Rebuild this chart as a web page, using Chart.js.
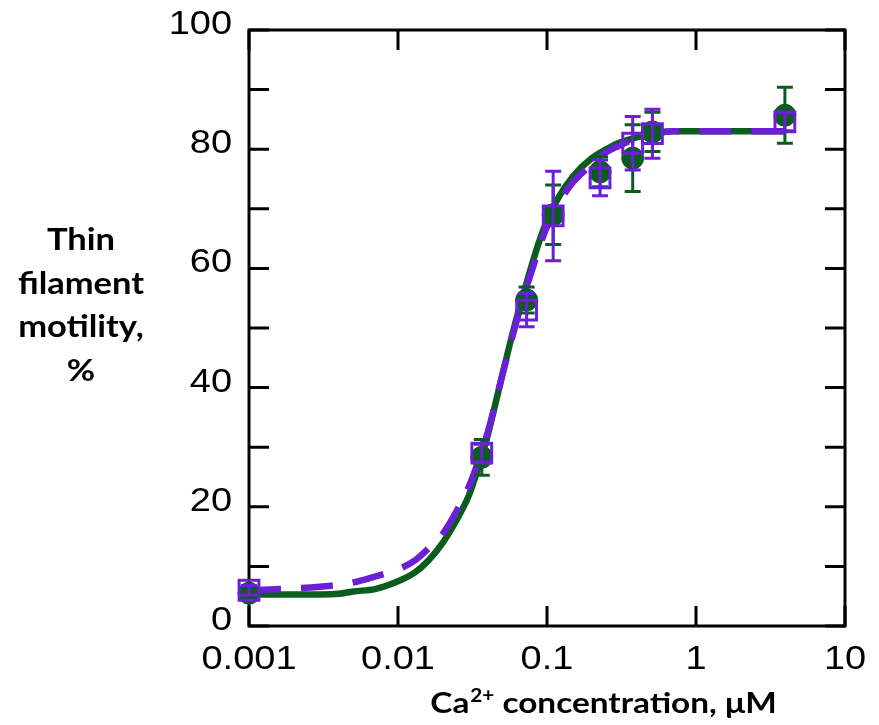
<!DOCTYPE html>
<html>
<head>
<meta charset="utf-8">
<script src="https://cdn.jsdelivr.net/npm/chart.js@4.4.1/dist/chart.umd.min.js"></script>
<style>
  html, body { margin: 0; padding: 0; background: #fff; }
</style>
</head>
<body>
<canvas id="chart" width="879" height="725"></canvas>
<script>
// measured points (Ca2+ in uM, motility in %)
const greenX = [0.001, 0.0365, 0.073, 0.11, 0.227, 0.376, 0.51, 3.95];
const greenY = [5.5, 28.3, 54.7, 69, 76.2, 78.5, 82.9, 85.7];
const greenErr = [0.8, 3, 2.2, 5, 2.5, 5.6, 3.3, 4.7];

const purpleX = [0.001, 0.0365, 0.073, 0.11, 0.227, 0.376, 0.51, 3.95];
const purpleY = [6, 29, 53, 68.8, 75.2, 81, 82.6, 84.6];
const purpleErr = [0.8, 1.5, 2.8, 7.5, 3, 4.5, 4.1, 1.5];

// fitted curves
const curveX = [0.001, 0.002, 0.003, 0.004, 0.005, 0.007, 0.01, 0.013, 0.016, 0.02, 0.025, 0.03, 0.035, 0.04, 0.05, 0.06, 0.07, 0.08, 0.09, 0.1, 0.12, 0.15, 0.2, 0.25, 0.3, 0.4, 0.5, 0.7, 1, 2, 4];
const greenCurve = [5.3, 5.3, 5.3, 5.4, 5.8, 6.2, 7.5, 9, 11, 14, 18, 22, 27, 32, 42, 50, 56, 61, 65, 68, 72, 75.5, 78.5, 80, 81, 82, 82.5, 83, 83, 83, 83];
const purpleCurve = [6, 6.3, 6.6, 6.9, 7.3, 8.3, 9.5, 11, 13, 15.5, 19.5, 23.5, 28, 32.5, 42, 49.5, 55.5, 60, 64, 67, 71, 74.5, 77.5, 79.5, 80.5, 81.8, 82.5, 83, 83, 83, 83];

const xTicks = [0.001, 0.01, 0.1, 1, 10];
const xTickLabels = ['0.001', '0.01', '0.1', '1', '10'];
const yTicks = [0, 10, 20, 30, 40, 50, 60, 70, 80, 90, 100];
const yTickLabels = ['0', '', '20', '', '40', '', '60', '', '80', '', '100'];
const yTitle = ['Thin', 'filament', 'motility,', '%'];

const GREEN = '#0b5d1e';
const PURPLE = '#6b1fd6';
const SX = 1.15; // text in the figure is a bit stretched horizontally

function pts(xs, ys) {
  return xs.map((x, i) => ({ x: x, y: ys[i] }));
}

function stretchText(ctx, text, x, y, align) {
  const w = ctx.measureText(text).width * SX;
  let left = x;
  if (align === 'center') left = x - w / 2;
  if (align === 'right') left = x - w;
  ctx.save();
  ctx.translate(left, y);
  ctx.scale(SX, 1);
  ctx.textAlign = 'left';
  ctx.fillText(text, 0, 0);
  ctx.restore();
}

const errorBars = {
  id: 'errorBars',
  beforeDatasetDraw(chart, args) {
    const ds = chart.data.datasets[args.index];
    if (!ds.errors) return;
    const ctx = chart.ctx;
    const xs = chart.scales.x, ys = chart.scales.y;
    ctx.save();
    ctx.strokeStyle = ds.borderColor;
    ctx.lineWidth = 3;
    ds.data.forEach((p, i) => {
      const px = xs.getPixelForValue(p.x);
      const top = ys.getPixelForValue(p.y + ds.errors[i]);
      const bot = ys.getPixelForValue(p.y - ds.errors[i]);
      ctx.beginPath();
      ctx.moveTo(px, top); ctx.lineTo(px, bot);
      ctx.moveTo(px - 8, top); ctx.lineTo(px + 8, top);
      ctx.moveTo(px - 8, bot); ctx.lineTo(px + 8, bot);
      ctx.stroke();
    });
    ctx.restore();
  }
};

const frame = {
  id: 'frame',
  beforeDatasetsDraw(chart) {
    const ctx = chart.ctx;
    const a = chart.chartArea;
    const xs = chart.scales.x, ys = chart.scales.y;
    ctx.save();
    ctx.strokeStyle = '#000';
    ctx.lineWidth = 3;
    ctx.strokeRect(a.left, a.top, a.right - a.left, a.bottom - a.top);
    ctx.beginPath();
    yTicks.forEach(v => {
      const py = ys.getPixelForValue(v);
      ctx.moveTo(a.left, py); ctx.lineTo(a.left + 20, py);
      ctx.moveTo(a.right, py); ctx.lineTo(a.right - 20, py);
    });
    xTicks.forEach(v => {
      const px = xs.getPixelForValue(v);
      ctx.moveTo(px, a.bottom); ctx.lineTo(px, a.bottom - 20);
      ctx.moveTo(px, a.top); ctx.lineTo(px, a.top + 20);
    });
    ctx.stroke();

    ctx.fillStyle = '#000';
    ctx.font = '33px "Liberation Sans", Arial, sans-serif';
    ctx.textBaseline = 'alphabetic';
    yTicks.forEach((v, i) => {
      if (yTickLabels[i]) stretchText(ctx, yTickLabels[i], a.left - 17, ys.getPixelForValue(v) + 4, 'right');
    });
    xTicks.forEach((v, i) => {
      stretchText(ctx, xTickLabels[i], xs.getPixelForValue(v), a.bottom + 43, 'center');
    });

    // y title, horizontal lines
    ctx.font = 'bold 30px Lato, "Open Sans", sans-serif';
    yTitle.forEach((t, i) => stretchText(ctx, t, 81, 250 + i * 43.5, 'center'));

    // x title with superscript
    const big = 'bold 29px Lato, "Open Sans", sans-serif';
    const small = 'bold 18px Lato, "Open Sans", sans-serif';
    ctx.font = big;
    const w1 = ctx.measureText('Ca').width;
    const w3 = ctx.measureText(' concentration, \u03bcM').width;
    ctx.font = small;
    const w2 = ctx.measureText('2+').width;
    let x0 = 603 - (w1 + w2 + w3) * SX / 2;
    const base = 713;
    ctx.font = big;
    stretchText(ctx, 'Ca', x0, base, 'left');
    x0 += w1 * SX;
    ctx.font = small;
    stretchText(ctx, '2+', x0 + 1, base - 11, 'left');
    x0 += w2 * SX + 1;
    ctx.font = big;
    stretchText(ctx, ' concentration, \u03bcM', x0, base, 'left');
    ctx.restore();
  }
};

new Chart(document.getElementById('chart'), {
  type: 'scatter',
  data: {
    datasets: [
      {
        label: 'green fit',
        data: pts(curveX, greenCurve),
        showLine: true,
        borderColor: GREEN,
        borderWidth: 6.5,
        pointRadius: 0,
        cubicInterpolationMode: 'monotone',
        clip: false,
        order: 4
      },
      {
        label: 'purple fit',
        data: pts(curveX, purpleCurve),
        showLine: true,
        borderColor: PURPLE,
        borderWidth: 6.5,
        borderDash: [32, 20],
        pointRadius: 0,
        cubicInterpolationMode: 'monotone',
        clip: false,
        order: 3
      },
      {
        label: 'green data',
        data: pts(greenX, greenY),
        errors: greenErr,
        borderColor: GREEN,
        backgroundColor: GREEN,
        pointRadius: 11,
        pointBorderWidth: 1,
        clip: false,
        order: 2
      },
      {
        label: 'purple data',
        data: pts(purpleX, purpleY),
        errors: purpleErr,
        borderColor: PURPLE,
        backgroundColor: 'rgba(0,0,0,0)',
        pointStyle: 'rect',
        pointRadius: 14,
        pointBorderWidth: 3,
        clip: false,
        order: 1
      }
    ]
  },
  options: {
    responsive: false,
    animation: false,
    devicePixelRatio: 1,
    layout: { padding: { left: 249, top: 30, right: 34, bottom: 99 } },
    plugins: { legend: { display: false }, tooltip: { enabled: false } },
    scales: {
      x: { type: 'logarithmic', min: 0.001, max: 10, display: false },
      y: { type: 'linear', min: 0, max: 100, display: false }
    }
  },
  plugins: [frame, errorBars]
});
</script>
</body>
</html>
